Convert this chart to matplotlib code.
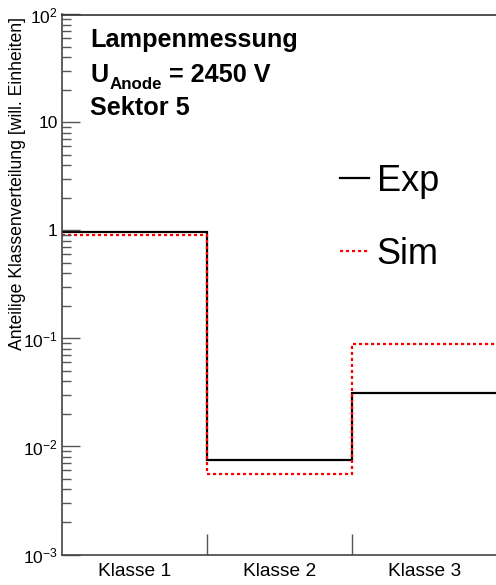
import matplotlib
matplotlib.use("Agg")
import matplotlib.pyplot as plt
from matplotlib.ticker import LogLocator, NullFormatter, FixedLocator
from matplotlib.transforms import offset_copy
import numpy as np

plt.rcParams['font.family'] = ['Liberation Sans', 'DejaVu Sans']
plt.rcParams['mathtext.fontset'] = 'custom'
plt.rcParams['mathtext.rm'] = 'Liberation Sans'
plt.rcParams['mathtext.it'] = 'Liberation Sans:italic'
plt.rcParams['mathtext.bf'] = 'Liberation Sans:bold'

# data
categories = ["Klasse 1", "Klasse 2", "Klasse 3"]
exp_values = [0.96, 0.0075, 0.0316]
sim_values = [0.91, 0.0056, 0.088]
title_line1 = "Lampenmessung"
title_line2 = ("U", "Anode", " = 2450 V")
title_line3 = "Sektor 5"
ylabel = "Anteilige Klassenverteilung [will. Einheiten]"

W, H = 496, 585
fig = plt.figure(figsize=(W/100, H/100), dpi=100)
ax = fig.add_axes([62/W, 30.5/H, 435/W, 540/H])

edges = np.arange(len(categories) + 1)
ax.stairs(exp_values, edges, baseline=None, color='black', lw=1.6, label='Exp')
ax.stairs(sim_values, edges, baseline=None, color='#ff0000', lw=1.6,
          linestyle=(0, (1.4, 1.3)), label='Sim')

ax.set_yscale('log')
ax.set_ylim(1e-3, 1e2)
ax.set_xlim(0, len(categories))

# y ticks
ax.yaxis.set_major_locator(LogLocator(base=10, numticks=10))
ax.yaxis.set_minor_locator(LogLocator(base=10, subs=np.arange(2, 10), numticks=20))
ax.yaxis.set_minor_formatter(NullFormatter())
def yfmt(v, pos):
    e = int(round(np.log10(v)))
    if e == 0:
        return "1"
    if e == 1:
        return "10"
    return r"$10^{%d}$" % e
ax.yaxis.set_major_formatter(matplotlib.ticker.FuncFormatter(yfmt))
ax.tick_params(axis='y', which='major', direction='in', length=13, width=1,
               color='#555555', labelsize=12.5, pad=3)
ax.tick_params(axis='y', which='minor', direction='in', length=6.5, width=1,
               color='#555555')

# x ticks: boundaries as major (no label), centers as minor with labels
ax.xaxis.set_major_locator(FixedLocator(edges[1:-1]))
ax.xaxis.set_major_formatter(NullFormatter())
ax.xaxis.set_minor_locator(FixedLocator(edges[:-1] + 0.5))
ax.xaxis.set_minor_formatter(matplotlib.ticker.FixedFormatter(categories))
ax.tick_params(axis='x', which='major', direction='in', length=15, width=1,
               color='#555555')
ax.tick_params(axis='x', which='minor', length=0, labelsize=13.8, pad=6)

for s in ['left', 'bottom']:
    ax.spines[s].set_color('#444444')
    ax.spines[s].set_linewidth(1.2)
ax.spines['top'].set_color('#333333')
ax.spines['top'].set_linewidth(1.2)
ax.spines['right'].set_visible(False)

fig.text(18/W, 1 - 184/H, ylabel, rotation=90, ha='center', va='center', fontsize=12.7)

# title texts
FS = 18.2
fig.text(90/W, 1 - 47/H, title_line1, fontsize=FS, fontweight='bold', ha='left', va='baseline')
fig.text(90/W, 1 - 115/H, title_line3, fontsize=FS, fontweight='bold', ha='left', va='baseline')

# second line built from pieces: U, subscript, rest
fig.canvas.draw()
r = fig.canvas.get_renderer()
tU = fig.text(90/W, 1 - 82/H, title_line2[0], fontsize=FS, fontweight='bold',
              ha='left', va='baseline')
bbU = tU.get_window_extent(r)
tS = fig.text((bbU.x1 + 1) / W, 1 - 89/H, title_line2[1], fontsize=12.2,
              fontweight='bold', ha='left', va='baseline')
bbS = tS.get_window_extent(r)
fig.text((bbS.x1) / W, 1 - 82/H, title_line2[2], fontsize=FS, fontweight='bold',
         ha='left', va='baseline')

leg = ax.legend(loc='upper left', bbox_to_anchor=(340/W, 1 - 164/H),
                bbox_transform=fig.transFigure, frameon=False, fontsize=26,
                handlelength=0.8, handletextpad=0.22, labelspacing=1.05,
                borderaxespad=0, borderpad=0)

fig.savefig("out.png", dpi=100)
